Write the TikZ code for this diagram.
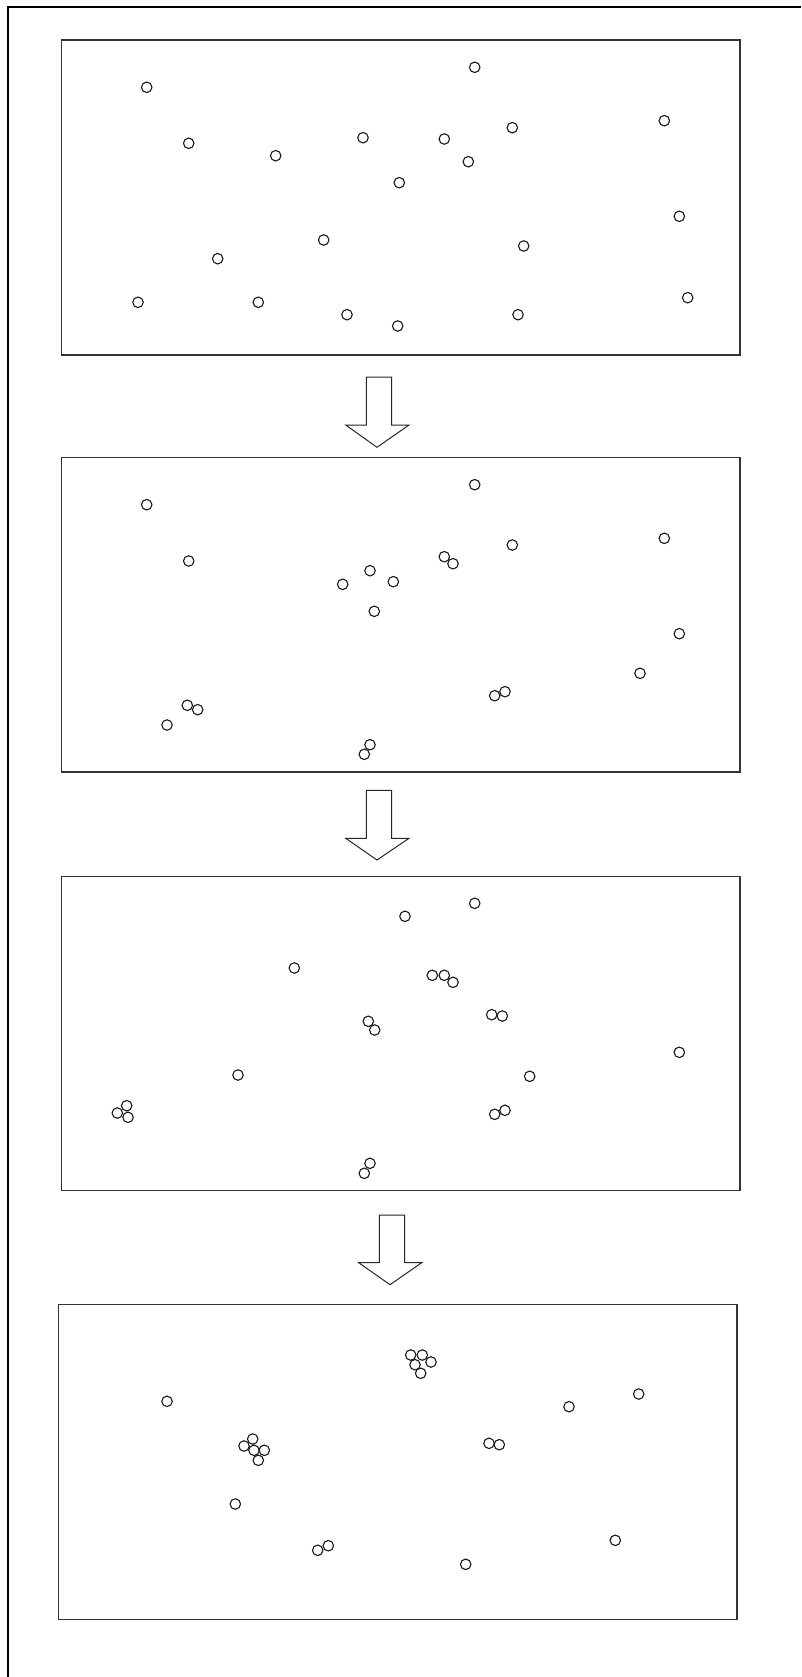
\documentclass[tikz,border=0pt]{standalone}
\begin{document}
\begin{tikzpicture}[x=1pt,y=-1pt,
  panel/.style={draw=black!80,line width=1.3pt},
  particle/.style={circle,draw=black!90,line width=1.1pt,minimum size=10.5pt,inner sep=0pt},
  blockarrow/.style={draw=black!85,line width=1pt,fill=white,line join=miter},
  frame/.style={draw=black,line width=1.6pt}]
\useasboundingbox (0,0) rectangle (801,1677);
% outer frame (only top and left edges are visible)
\coordinate (fbl) at (8,1677);
\coordinate (ftl) at (8,7);
\coordinate (ftr) at (801,7);
\draw[frame] (fbl) -- (ftl) -- (ftr);
% panels
\draw[panel] (61.7,40) rectangle (740,355);
\draw[panel] (61.7,457.3) rectangle (740,772);
\draw[panel] (61.7,876.3) rectangle (740,1190.7);
\draw[panel] (58.7,1304.7) rectangle (737,1619.7);
% block arrows
\draw[blockarrow] (366.3,377) -- (391.7,377) -- (391.7,425) -- (409,425) -- (377,447.3) -- (345.7,425) -- (366.3,425) -- cycle;
\draw[blockarrow] (366.3,790.3) -- (391.7,790.3) -- (391.7,838.3) -- (409,838.3) -- (377,860) -- (345.7,838.3) -- (366.3,838.3) -- cycle;
\draw[blockarrow] (379.3,1215) -- (404.7,1215) -- (404.7,1262.7) -- (421.7,1262.7) -- (390,1284.7) -- (358.7,1262.7) -- (379.3,1262.7) -- cycle;
% panel 1
\foreach \x/\y [count=\i] in {146.7/87.3,188.7/143.3,275.7/155.7,363/137.7,399.3/182.7,323.7/240,217.7/258.7,138/302.3,258.3/302.3,347/314.7,397.7/326,474.7/67.3,512.3/127.7,444.3/139,468.3/161.7,664.3/120.7,679.3/216.3,523.7/246,687.7/297.7,518/314.7}
  \node[particle] (a\i) at (\x,\y) {};
% panel 2
\foreach \x/\y [count=\i] in {146.7/504.7,188.7/561,370/570.7,342.7/584.3,393.3/581.7,374.3/611.3,187.3/705.3,197.7/709.7,167/725,370/744.7,364.3/754.3,474.7/484.7,512.3/545,444.3/556.7,453/563.7,664.3/538.3,679.3/633.7,640/673.3,505/691.7,494.7/695.7}
  \node[particle] (b\i) at (\x,\y) {};
% panel 3
\foreach \x/\y [count=\i] in {405/916.3,294.3/968,368.3/1021.3,374.7/1030,238/1075,126.7/1105.7,117.3/1113,128/1117.3,370/1163.3,364.3/1173.3,474.7/903.3,432.3/975.3,444.3/975.3,453/982.3,491.7/1014.7,502.3/1016,679.3/1052.3,529.7/1076.3,494.7/1114.3,505/1110.3}
  \node[particle] (c\i) at (\x,\y) {};
% panel 4
\foreach \x/\y [count=\i] in {167/1401.3,252.7/1439,244/1446,254/1450.3,264.3/1450.3,258.3/1460.3,235.3/1504,317.7/1550.3,328.3/1545.7,410.7/1355,422.3/1355,431/1362,415/1364.7,420.7/1373.3,569/1406.7,638.7/1394,489/1443.3,499.3/1444.7,615.3/1540.3,465.7/1564.3}
  \node[particle] (d\i) at (\x,\y) {};
\end{tikzpicture}
\end{document}
